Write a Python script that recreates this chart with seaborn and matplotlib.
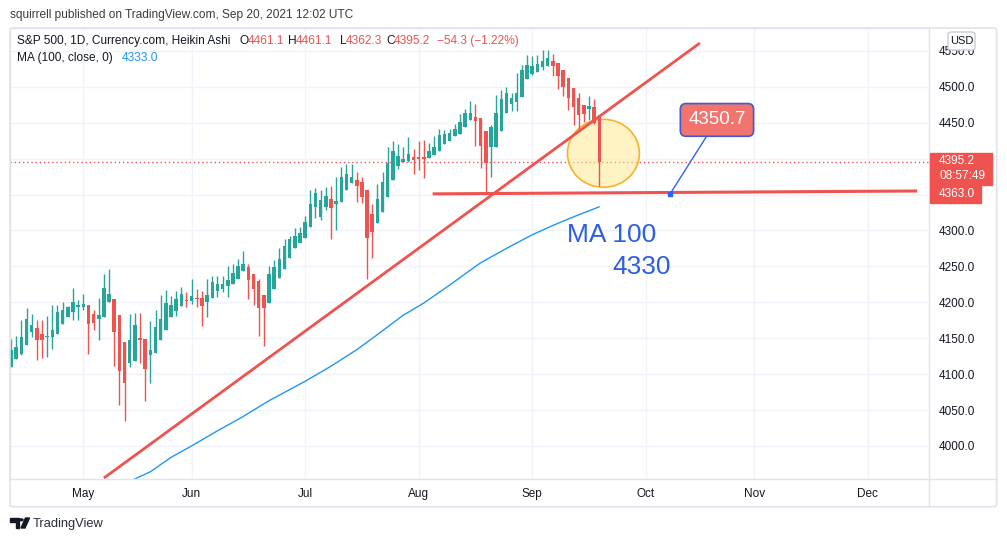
import numpy as np
import pandas as pd
import matplotlib.pyplot as plt
import seaborn as sns
from matplotlib.patches import Ellipse, FancyBboxPatch, Rectangle, Polygon, Circle
from matplotlib.lines import Line2D

# Heikin Ashi bars, one per weekday, 2021-04-13 .. 2021-09-20
ha_open = [4110, 4121, 4128, 4140, 4158, 4164, 4156, 4152, 4152, 4156, 4170, 4179, 4186, 4193,
           4194, 4196, 4184, 4177, 4179, 4200, 4205, 4182, 4145, 4115, 4118, 4150, 4149, 4127, 4130, 4147,
           4162, 4180, 4188, 4195, 4203.5, 4202, 4205.6, 4206, 4201, 4206, 4216, 4219, 4223, 4226, 4233,
           4243, 4249, 4240, 4230, 4210, 4199, 4219, 4234, 4247, 4262, 4275, 4282, 4290, 4305,
           4333, 4319, 4333, 4344, 4337, 4339, 4356, 4366, 4370, 4367, 4356, 4323, 4311, 4326, 4347,
           4371, 4390, 4395, 4397, 4402, 4402, 4402, 4400.5, 4405, 4411, 4420, 4425, 4431, 4435,
           4444, 4454, 4458.5, 4456, 4438.5, 4416, 4416, 4439, 4463, 4476, 4479, 4486, 4510.5, 4518,
           4521, 4527, 4529, 4536, 4533, 4523.5, 4513, 4499, 4485, 4475, 4469, 4472, 4461.1]
ha_high = [4149, 4153, 4175, 4192, 4184, 4176, 4176, 4181, 4196, 4196, 4200, 4195, 4220, 4203,
           4212, 4196, 4189, 4206, 4239, 4246, 4205, 4182, 4145, 4184, 4185, 4185, 4149, 4174, 4189, 4210,
           4217, 4209, 4216, 4222, 4215, 4233, 4219, 4216, 4233, 4236, 4237, 4236, 4251, 4253, 4260,
           4271, 4254, 4240, 4232, 4210, 4251, 4259, 4275, 4288, 4292, 4303, 4305, 4320, 4357,
           4359, 4357, 4361, 4362.5, 4374, 4388, 4393, 4393, 4381, 4374, 4356, 4337, 4365, 4381, 4416,
           4424, 4421, 4416, 4430, 4413.5, 4425, 4426, 4422, 4431, 4441, 4440, 4441, 4448, 4462,
           4469, 4481, 4476, 4456, 4438.5, 4447, 4489, 4495, 4500, 4492, 4519, 4530.5, 4544, 4543,
           4544, 4551, 4551, 4546, 4533, 4523.5, 4513, 4499, 4491, 4475, 4487, 4483, 4461.1]
ha_low = [4110, 4121, 4127, 4140, 4151, 4119, 4122, 4124, 4135, 4156, 4170, 4179, 4176, 4176,
          4189, 4128, 4161, 4148, 4179, 4200, 4111, 4057, 4035, 4110, 4118, 4116, 4062, 4088, 4130, 4147,
          4162, 4180, 4181, 4195, 4193, 4198, 4193, 4167, 4179, 4206, 4208, 4214, 4208, 4226, 4233,
          4243, 4204, 4196, 4153, 4139, 4199, 4219, 4234, 4247, 4262, 4275, 4282, 4290, 4305,
          4317, 4315, 4329, 4288, 4301, 4339, 4356, 4366, 4340, 4338, 4233, 4261, 4311, 4326, 4347,
          4371, 4385, 4395, 4396, 4378, 4384, 4373, 4400.5, 4405, 4411, 4420, 4425, 4431, 4435,
          4444, 4454, 4417, 4386.5, 4352, 4375, 4416, 4439, 4463, 4467, 4467, 4486, 4510.5, 4516.5,
          4521, 4523.5, 4529, 4515, 4497, 4487, 4468, 4447, 4438, 4451.5, 4454, 4449, 4362.3]
ha_close = [4133, 4138, 4152, 4177, 4168, 4147, 4148, 4153, 4161, 4186, 4189, 4193, 4200, 4196,
            4198, 4170, 4171, 4182, 4220, 4211, 4159, 4105, 4087, 4148, 4168, 4147, 4107, 4134, 4166, 4177,
            4199, 4196, 4204, 4211, 4202.5, 4209, 4204.6, 4195, 4210, 4228, 4225, 4226, 4231, 4241, 4251,
            4254, 4231, 4218, 4192, 4192, 4239, 4249, 4260, 4279, 4288, 4292, 4297, 4312, 4337,
            4352, 4342, 4348.5, 4332, 4341, 4374, 4378, 4374, 4362, 4346, 4290, 4298, 4344, 4367, 4394.5,
            4411, 4404, 4399, 4407, 4398, 4400, 4399.6, 4411, 4416, 4433, 4434, 4436, 4442, 4451,
            4463, 4464, 4453, 4418, 4393.5, 4444, 4463, 4483, 4491, 4485, 4492, 4523, 4530.5, 4529,
            4532, 4536.5, 4540, 4529, 4515, 4500, 4484, 4472, 4461, 4462, 4473, 4449.5, 4395.2]

# MA(100, close) at some bars
ma_bar = [22, 24, 27, 31, 35, 40, 45, 50, 57, 62, 67, 71, 76, 80, 85, 91, 96, 101, 105, 109, 114]
ma_val = [3944, 3954, 3964, 3984, 4000, 4021, 4041, 4063, 4090, 4111, 4134, 4155, 4182, 4199,
          4224, 4255, 4275, 4294, 4307, 4319, 4333]

# drawings (bar, price)
trend_bar = [18.0, 133.5]
trend_val = [3955.3, 4561.1]
level_bar = [81.7, 175.6]
level_val = [4351, 4355]
last_close = 4395.2
callout_value = 4350.7
callout_bar = 127.7

price_ticks = list(range(4000, 4551, 50))
hidden_ticks = [4350, 4400]   # covered by the price labels

GREEN = '#26a69a'
RED = '#ef5350'
DARK = '#131722'
BORDER = '#e0e3eb'
GRID = '#f0f3fa'

sns.set_style('white')
plt.rcParams['font.family'] = ['Liberation Sans', 'DejaVu Sans']

W, H = 1007, 542
def fx(x):
    return x / W
def fy(y):
    return 1 - y / H

fig = plt.figure(figsize=(W / 100, H / 100), dpi=100)
ax = fig.add_axes([fx(10), fy(479.3), fx(929.3) - fx(10), fy(28) - fy(479.3)])

bars = np.arange(len(ha_open))
o = np.array(ha_open)
c = np.array(ha_close)
colors = np.where(c >= o, GREEN, RED)

# highlight circle sits under the candles
ax.add_patch(Ellipse((114.8, 4407.5), width=13.95, height=94.7, facecolor='#ffe98a',
                     alpha=0.5, edgecolor='none', zorder=1.5))
ax.add_patch(Ellipse((114.8, 4407.5), width=13.95, height=94.7, facecolor='none',
                     edgecolor='#f5b22e', lw=1.2, zorder=1.6))

ax.vlines(bars, ha_low, ha_high, colors=colors, lw=1, zorder=2)
ax.bar(bars, np.maximum(np.abs(c - o), 1.2), bottom=np.minimum(o, c), width=0.68,
       color=colors, zorder=3, linewidth=0)

sns.lineplot(x=ma_bar, y=ma_val, ax=ax, color='#2196f3', lw=1, zorder=2)

ax.plot(trend_bar, trend_val, color=RED, lw=2, zorder=4, solid_capstyle='butt')
ax.plot(level_bar, level_val, color=RED, lw=2.2, zorder=4, solid_capstyle='butt')
ax.axhline(last_close, color=RED, lw=1, ls=(0, (1, 2)), zorder=1)

ax.annotate(f'{callout_value:.1f}', xy=(callout_bar, callout_value), xytext=(136.8, 4454),
            ha='center', va='center', fontsize=13.5, color='white', zorder=7,
            bbox=dict(boxstyle='round,pad=0.42,rounding_size=0.3', fc='#f2746f', ec='#3f5bd0', lw=1.2),
            arrowprops=dict(arrowstyle='-', color='#2962ff', lw=1, shrinkA=0, shrinkB=0))
ax.plot(callout_bar, callout_value, marker='s', ms=3.5, color='#2962ff', zorder=7)

ax.text(116.3, 4294, 'MA 100', fontsize=19, color='#2f5fe0', ha='center', va='center', zorder=6)
ax.text(122.2, 4249, '4330', fontsize=19, color='#2f5fe0', ha='center', va='center', zorder=6)

# axes, ticks, grid
dates = pd.bdate_range('2021-04-13', '2021-12-31')
month_pos = [i for i in range(1, len(dates)) if dates[i].month != dates[i - 1].month]
ax.set_xticks(month_pos)
ax.set_xticklabels([dates[i].strftime('%b') for i in month_pos])
ax.set_yticks(price_ticks)
ax.set_yticklabels(['' if v in hidden_ticks else f'{v:.1f}' for v in price_ticks])
ax.yaxis.tick_right()
ax.tick_params(axis='y', length=0, pad=7, labelsize=8.5, labelcolor=DARK)
ax.tick_params(axis='x', length=0, pad=6, labelsize=8.5, labelcolor=DARK)
ax.grid(True, color=GRID, lw=1)
ax.set_axisbelow(True)
ax.set_xlim(-0.2, 177.95)
ax.set_ylim(3953.5, 4582)
ax.set_xlabel('')
ax.set_ylabel('')
for s in ax.spines.values():
    s.set_color(BORDER)
    s.set_linewidth(1)

# outer frame and axis separators
fig.add_artist(FancyBboxPatch((fx(10), fy(506.7)), fx(996.7) - fx(10), fy(28) - fy(506.7),
                              boxstyle='round,pad=0,rounding_size=0.004', transform=fig.transFigure,
                              fc='none', ec=BORDER, lw=1.2, zorder=3))
fig.add_artist(Line2D([fx(929.3), fx(996.7)], [fy(479.3), fy(479.3)], color=BORDER, lw=1,
                      transform=fig.transFigure))
fig.add_artist(Line2D([fx(929.3), fx(929.3)], [fy(479.3), fy(506.7)], color=BORDER, lw=1,
                      transform=fig.transFigure))

# price axis labels
fig.add_artist(Rectangle((fx(930), fy(184.5)), fx(992) - fx(930), fy(153) - fy(184.5),
                         transform=fig.transFigure, color=RED, zorder=5))
fig.text(fx(939), fy(161.5), f'{last_close:.1f}', color='white', fontsize=8.5,
         va='center', zorder=6)
fig.text(fx(939), fy(176), '08:57:49', color='white', fontsize=8.5, va='center', zorder=6)
fig.add_artist(Rectangle((fx(930), fy(202.5)), fx(981) - fx(930), fy(185.5) - fy(202.5),
                         transform=fig.transFigure, color=RED, zorder=5))
fig.text(fx(939), fy(194), '4363.0', color='white', fontsize=8.5, va='center', zorder=6)
fig.add_artist(FancyBboxPatch((fx(948), fy(50)), fx(975) - fx(948), fy(32) - fy(50),
                              boxstyle='round,pad=0,rounding_size=0.004', transform=fig.transFigure,
                              fc='white', ec='#c9ccd4', lw=1, zorder=5))
fig.text(fx(961.5), fy(41.5), 'USD', color=DARK, fontsize=8, ha='center', va='center', zorder=6)

# header and legend
fig.text(fx(10), fy(15), 'squirrell published on TradingView.com, Sep 20, 2021 12:02 UTC',
         fontsize=8.6, color='#3c3c3c', va='center')
legend_parts = [('S&P 500, 1D, Currency.com, Heikin Ashi', 17.3, DARK),
                ('O', 240, DARK), ('4461.1', 248, RED),
                ('H', 288.3, DARK), ('4461.1', 296, RED),
                ('L', 340, DARK), ('4362.3', 346, RED),
                ('C', 386.7, DARK), ('4395.2', 394, RED),
                ('\u221254.3 (\u22121.22%)', 436.7, RED)]
for txt, x, col in legend_parts:
    fig.text(fx(x), fy(41), txt, fontsize=8.6, color=col, va='center')
fig.text(fx(17.3), fy(58), 'MA (100, close, 0)', fontsize=8.6, color=DARK, va='center')
fig.text(fx(121.7), fy(58), '4333.0', fontsize=8.6, color='#2196f3', va='center')

# footer logo + name
def px_poly(pts, **kw):
    return Polygon([(fx(a), fy(b)) for a, b in pts], closed=True, transform=fig.transFigure, **kw)
fig.add_artist(px_poly([(10, 518), (19, 518), (19, 528), (15.5, 528), (15.5, 521.5), (10, 521.5)],
                       color=DARK))
fig.add_artist(Circle((fx(21.3), fy(519.8)), 1.7 / W, transform=fig.transFigure, color=DARK))
fig.add_artist(px_poly([(25.5, 518), (29.5, 518), (25, 528), (21, 528)], color=DARK))
fig.text(fx(33), fy(523.5), 'TradingView', fontsize=9.3, color='#2a2e39', va='center')

fig.savefig('out.png', dpi=100)
